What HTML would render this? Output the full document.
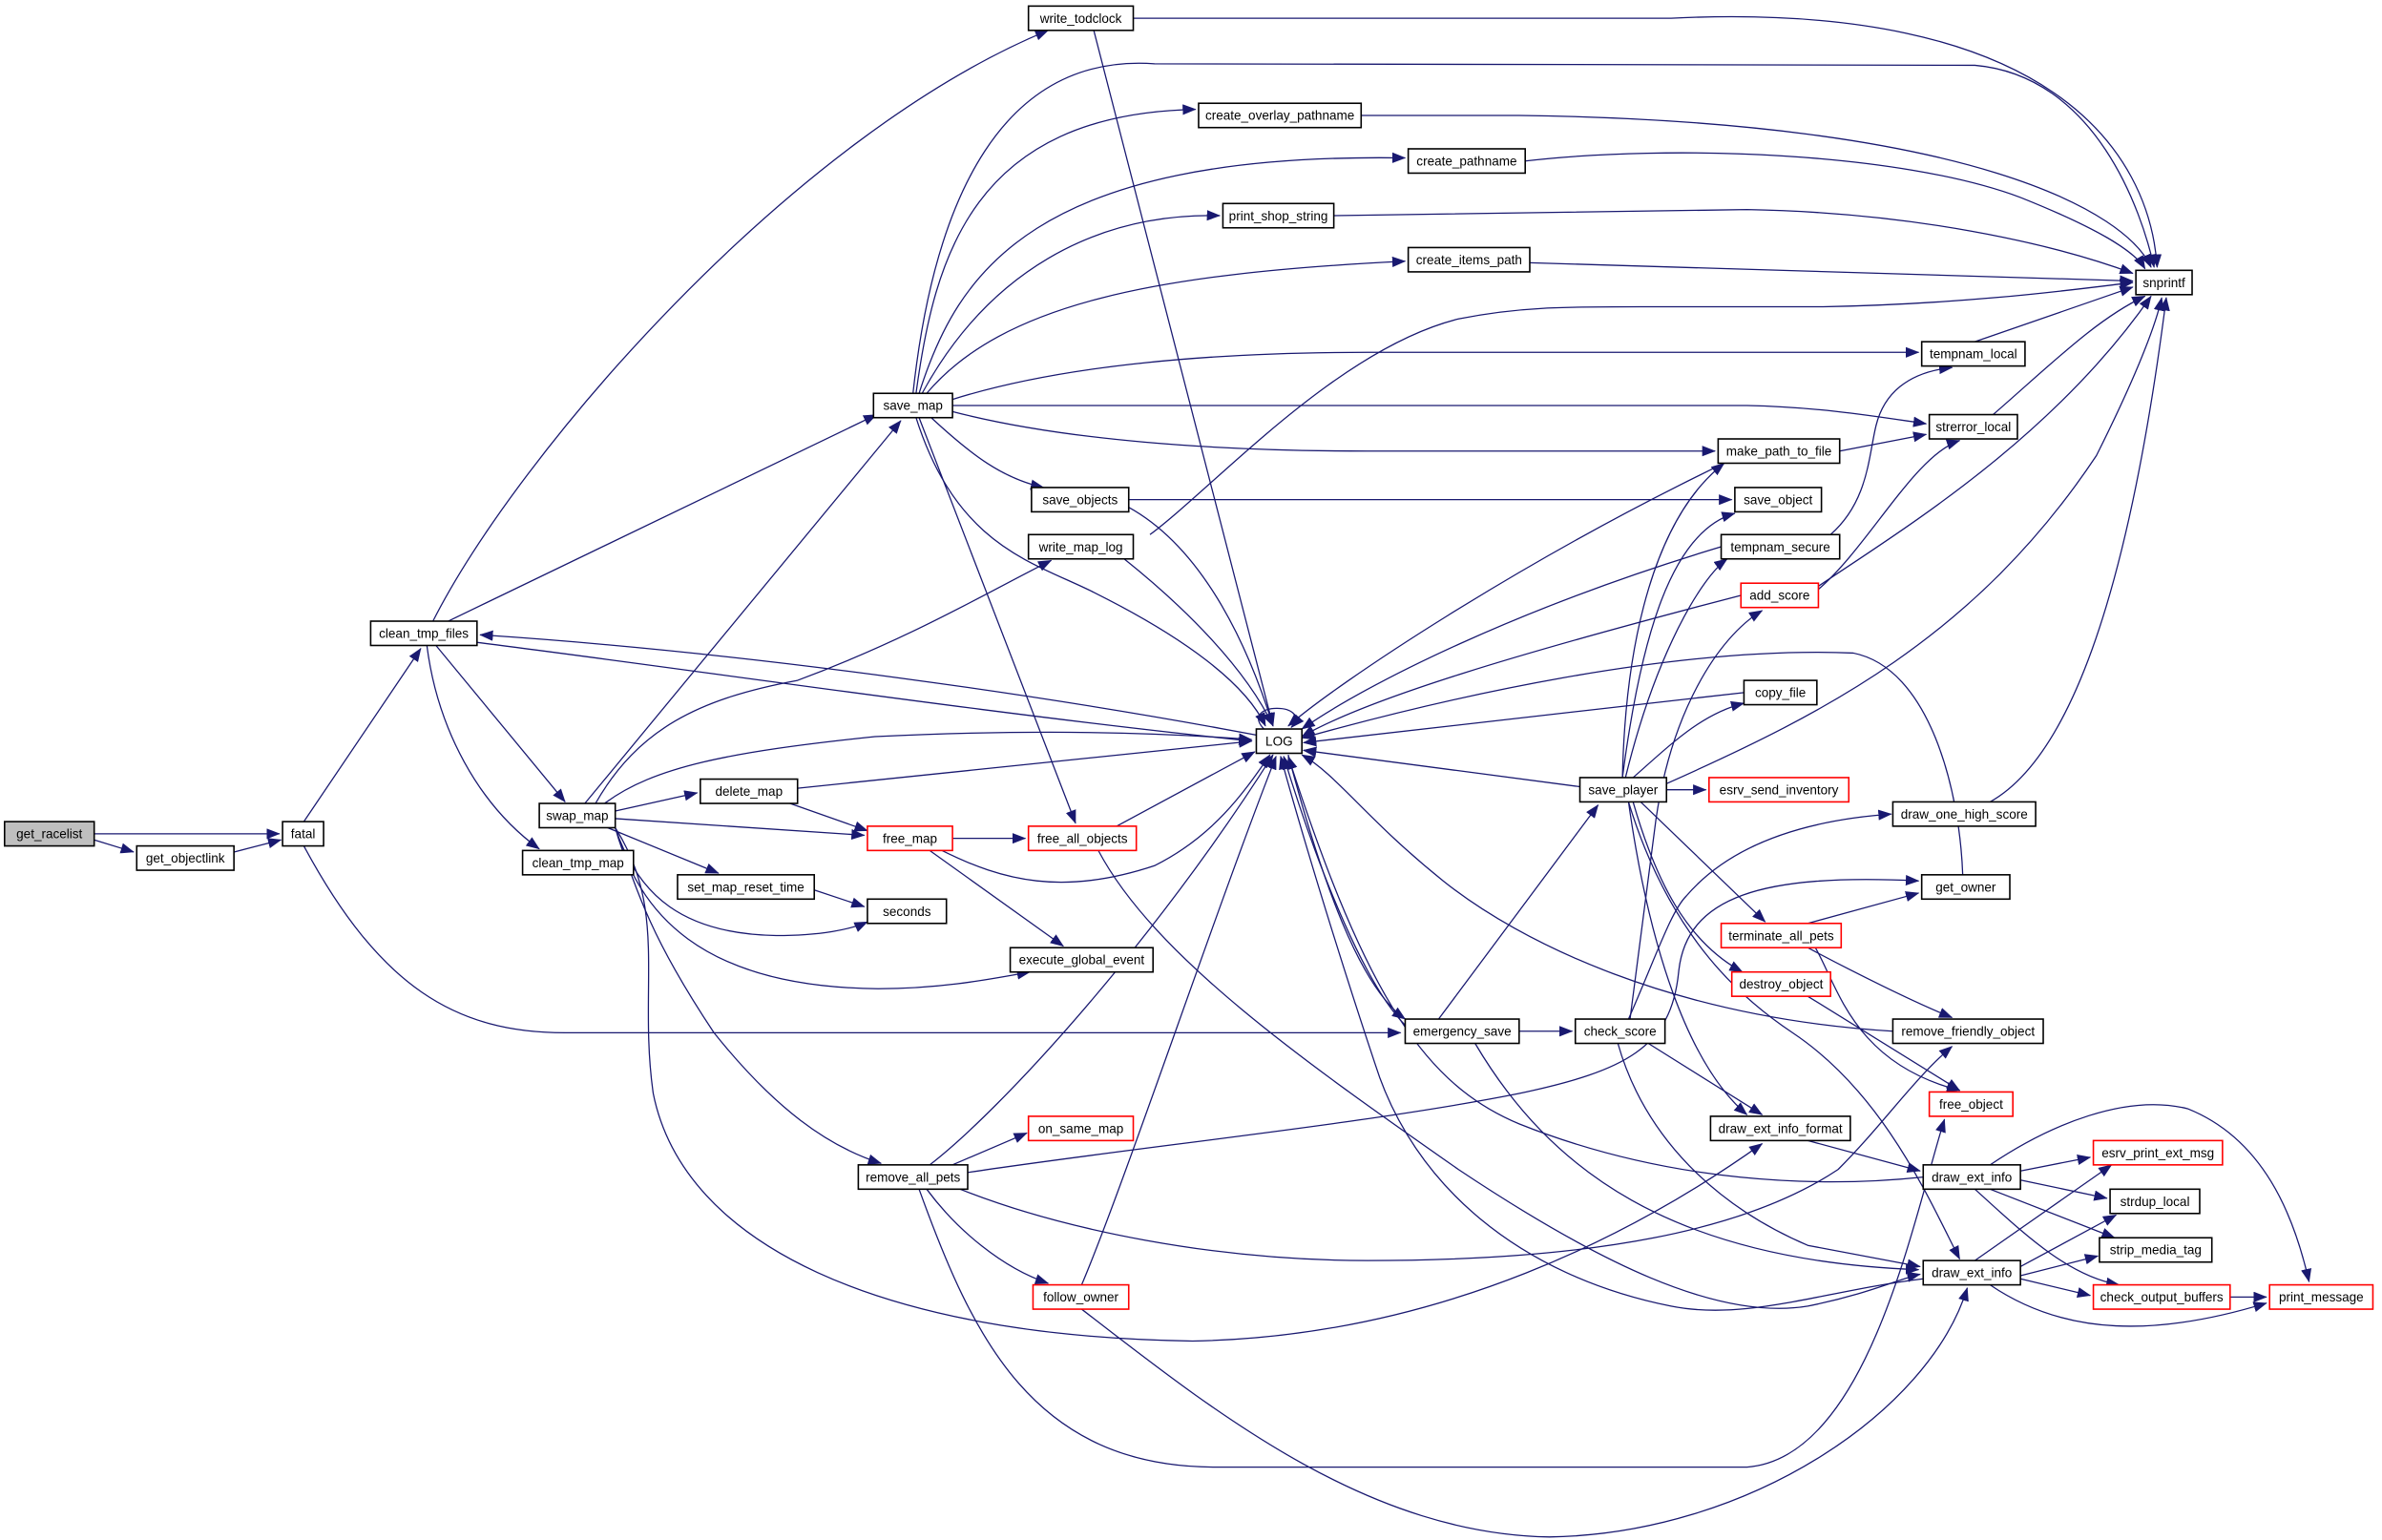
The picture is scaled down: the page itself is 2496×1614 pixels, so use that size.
<!DOCTYPE html>
<html><head><meta charset="utf-8"><style>html,body{margin:0;padding:0;background:#fff}svg{display:block}</style></head>
<body>
<svg width="2496" height="1614" viewBox="0 0 1568 1014" preserveAspectRatio="none" xmlns="http://www.w3.org/2000/svg">
<defs>
<marker id="a" markerUnits="userSpaceOnUse" markerWidth="9" markerHeight="7" refX="8.5" refY="3.5" orient="auto">
<path d="M0,0 L9,3.5 L0,7 z" fill="#191970"/>
</marker>
</defs>
<g fill="none" stroke="#191970" stroke-width="0.8" marker-end="url(#a)">
<path d="M62,549 L184,549"/>
<path d="M62,553 L88,561"/>
<path d="M154,561 L185,553"/>
<path d="M200,541 L277,427"/>
<path d="M200,557 C250,650 300,680 372,680 L922,680"/>
<path d="M285,409 C340,300 520,90 690,20"/>
<path d="M295,409 L577,273"/>
<path d="M287,425 L372,528"/>
<path d="M281,425 C288,480 315,530 355,559"/>
<path d="M827,484 C700,460 500,430 316,418"/>
<path d="M314,423 C450,440 650,470 824,488"/>
<path d="M746,12 L1100,12 C1350,0 1415,100 1420,176"/>
<path d="M720,20 L838,478"/>
<path d="M603,259 C615,170 640,75 787,72"/>
<path d="M601,259 C615,130 660,35 760,42 L1300,43 C1380,50 1410,140 1418,176"/>
<path d="M605,259 C630,180 680,100 925,104"/>
<path d="M607,259 C650,180 720,140 803,142"/>
<path d="M610,259 C660,200 760,180 925,172"/>
<path d="M627,263 C700,240 800,232 900,232 L1263,232"/>
<path d="M627,267 L1150,267 C1200,268 1240,275 1268,279"/>
<path d="M627,271 C700,290 800,297 900,297 L1129,297"/>
<path d="M613,275 C640,300 660,315 687,321"/>
<path d="M605,275 L708,542"/>
<path d="M603,275 C630,360 680,370 720,390 C780,420 820,450 833,478"/>
<path d="M743,329 L1140,329"/>
<path d="M743,334 C790,360 820,420 838,478"/>
<path d="M757,352 C800,320 880,230 960,210 C1000,202 1030,202 1080,202 L1200,202 C1300,200 1370,190 1404,186"/>
<path d="M740,368 C780,400 820,440 838,478"/>
<path d="M385,529 L593,277"/>
<path d="M392,529 C420,480 460,460 525,448 C600,420 650,390 692,369"/>
<path d="M398,529 C430,505 480,495 576,485 C680,480 760,482 824,487"/>
<path d="M405,534 L459,522"/>
<path d="M405,539 L569,550"/>
<path d="M400,545 L473,575"/>
<path d="M405,545 C420,590 450,615 511,616 C540,616 560,612 571,607"/>
<path d="M405,545 C420,600 460,650 578,651 C620,651 650,645 678,640"/>
<path d="M405,545 C420,590 430,620 470,680 C510,730 545,755 580,766"/>
<path d="M405,545 C440,600 420,650 430,720 C450,820 580,880 785,883 C950,880 1080,810 1160,753"/>
<path d="M525,519 L824,488"/>
<path d="M520,529 L571,547"/>
<path d="M627,552 L675,552"/>
<path d="M612,560 L700,623"/>
<path d="M620,560 C660,580 700,590 760,570 C800,550 820,520 836,497"/>
<path d="M735,544 L826,495"/>
<path d="M723,560 C760,630 860,700 960,770 C1050,830 1130,870 1190,860 C1230,852 1250,842 1264,839"/>
<path d="M536,586 L569,597"/>
<path d="M612,767 C660,730 760,620 838,497"/>
<path d="M627,767 L676,746"/>
<path d="M637,772 C750,755 900,740 1000,720 C1070,705 1100,690 1105,640 C1110,590 1160,575 1263,580"/>
<path d="M632,783 C700,810 800,830 900,830 C1050,830 1150,810 1210,770 C1240,740 1260,710 1285,689"/>
<path d="M605,783 C640,880 680,966 800,966 L1150,966 C1230,960 1260,800 1280,737"/>
<path d="M610,783 C630,810 660,835 690,845"/>
<path d="M712,862 C800,930 900,1010 1020,1012 C1150,1010 1270,930 1295,848"/>
<path d="M712,846 C740,780 800,600 840,498"/>
<path d="M896,76 L1000,76 C1300,80 1400,140 1416,176"/>
<path d="M1004,106 C1100,95 1250,100 1330,130 C1380,150 1405,165 1412,177"/>
<path d="M878,142 L1150,138 C1260,140 1350,160 1404,180"/>
<path d="M1007,173 L1404,185"/>
<path d="M1300,225 L1404,189"/>
<path d="M1312,273 C1350,240 1380,210 1412,195"/>
<path d="M1211,297 L1268,286"/>
<path d="M1197,386 C1250,350 1350,290 1416,195"/>
<path d="M1197,388 C1230,360 1260,300 1290,290"/>
<path d="M1097,516 C1200,470 1300,420 1380,300 C1410,240 1420,210 1423,196"/>
<path d="M1205,352 C1230,330 1230,300 1235,280 C1240,260 1255,245 1285,242"/>
<path d="M1133,360 C1000,400 900,450 857,480"/>
<path d="M1135,305 C1000,370 880,450 848,478"/>
<path d="M1146,392 C1000,430 900,460 857,485"/>
<path d="M1148,456 L858,489"/>
<path d="M1292,576 C1290,520 1270,440 1220,430 C1100,425 950,460 857,486"/>
<path d="M1040,518 L858,494"/>
<path d="M1097,520 L1123,520"/>
<path d="M1068,512 C1070,420 1090,340 1135,305"/>
<path d="M1068,512 C1080,420 1100,350 1142,338"/>
<path d="M1070,512 C1090,430 1120,380 1137,368"/>
<path d="M1075,512 C1100,490 1120,470 1148,463"/>
<path d="M1080,528 L1162,607"/>
<path d="M1075,528 C1090,580 1110,620 1147,640"/>
<path d="M1072,528 C1085,620 1110,700 1150,734"/>
<path d="M1072,528 C1100,620 1150,660 1180,680 C1240,720 1270,790 1290,829"/>
<path d="M947,671 L1052,530"/>
<path d="M1000,679 L1035,679"/>
<path d="M971,687 C1020,770 1100,830 1263,836"/>
<path d="M848,497 C870,580 895,650 925,671"/>
<path d="M925,675 C900,650 870,580 845,498"/>
<path d="M1073,671 L1090,540 C1100,470 1130,420 1160,402"/>
<path d="M1072,671 C1090,630 1100,600 1110,590 C1140,555 1190,540 1245,536"/>
<path d="M1085,687 L1160,734"/>
<path d="M1065,687 C1080,740 1120,790 1190,820 L1264,834"/>
<path d="M1310,528 C1360,500 1400,400 1426,196"/>
<path d="M1190,608 L1263,588"/>
<path d="M1190,624 C1220,640 1260,660 1285,670"/>
<path d="M1195,624 C1210,650 1220,700 1290,718"/>
<path d="M1190,656 L1290,718"/>
<path d="M1246,679 C1100,670 1000,620 950,580 C900,540 880,510 857,497"/>
<path d="M1190,751 L1264,771"/>
<path d="M1266,775 C1200,782 1100,780 1000,740 C940,715 900,660 848,498"/>
<path d="M1266,842 C1200,850 1150,870 1100,860 C1000,840 930,780 905,700 C885,640 860,560 843,498"/>
<path d="M1330,771 L1376,762"/>
<path d="M1330,777 L1387,789"/>
<path d="M1310,783 L1392,815"/>
<path d="M1300,783 C1330,810 1360,840 1395,846"/>
<path d="M1310,767 C1350,740 1400,720 1440,730 C1490,750 1510,800 1520,844"/>
<path d="M1300,830 L1390,767"/>
<path d="M1330,834 L1393,800"/>
<path d="M1330,840 L1381,827"/>
<path d="M1330,842 L1376,853"/>
<path d="M1310,846 C1360,880 1420,880 1492,858"/>
<path d="M1468,854 L1492,854"/>
<path d="M832,480 C815,462 865,462 850,479"/>
</g>
<g font-family="Liberation Sans, sans-serif" font-size="8.5" text-anchor="middle" fill="#000" stroke-width="1">
<rect x="3" y="541" width="59" height="16" fill="#bfbfbf" stroke="#000"/><text x="32.5" y="552">get_racelist</text>
<rect x="90" y="557" width="64" height="16" fill="#fff" stroke="#000"/><text x="122" y="568">get_objectlink</text>
<rect x="186" y="541" width="27" height="16" fill="#fff" stroke="#000"/><text x="199.5" y="552">fatal</text>
<rect x="244" y="409" width="70" height="16" fill="#fff" stroke="#000"/><text x="279" y="420">clean_tmp_files</text>
<rect x="677" y="4" width="69" height="16" fill="#fff" stroke="#000"/><text x="711.5" y="15">write_todclock</text>
<rect x="575" y="259" width="52" height="16" fill="#fff" stroke="#000"/><text x="601" y="270">save_map</text>
<rect x="679" y="321" width="64" height="16" fill="#fff" stroke="#000"/><text x="711" y="332">save_objects</text>
<rect x="677" y="352" width="69" height="16" fill="#fff" stroke="#000"/><text x="711.5" y="363">write_map_log</text>
<rect x="355" y="529" width="50" height="16" fill="#fff" stroke="#000"/><text x="380" y="540">swap_map</text>
<rect x="344" y="560" width="73" height="16" fill="#fff" stroke="#000"/><text x="380.5" y="571">clean_tmp_map</text>
<rect x="461" y="513" width="64" height="16" fill="#fff" stroke="#000"/><text x="493" y="524">delete_map</text>
<rect x="571" y="544" width="56" height="16" fill="#fff" stroke="#f00"/><text x="599" y="555">free_map</text>
<rect x="677" y="544" width="71" height="16" fill="#fff" stroke="#f00"/><text x="712.5" y="555">free_all_objects</text>
<rect x="446" y="576" width="90" height="16" fill="#fff" stroke="#000"/><text x="491" y="587">set_map_reset_time</text>
<rect x="571" y="592" width="52" height="16" fill="#fff" stroke="#000"/><text x="597" y="603">seconds</text>
<rect x="665" y="624" width="94" height="16" fill="#fff" stroke="#000"/><text x="712" y="635">execute_global_event</text>
<rect x="827" y="480" width="30" height="16" fill="#fff" stroke="#000"/><text x="842" y="491">LOG</text>
<rect x="789" y="68" width="107" height="16" fill="#fff" stroke="#000"/><text x="842.5" y="79">create_overlay_pathname</text>
<rect x="927" y="98" width="77" height="16" fill="#fff" stroke="#000"/><text x="965.5" y="109">create_pathname</text>
<rect x="805" y="134" width="73" height="16" fill="#fff" stroke="#000"/><text x="841.5" y="145">print_shop_string</text>
<rect x="927" y="163" width="80" height="16" fill="#fff" stroke="#000"/><text x="967" y="174">create_items_path</text>
<rect x="1406" y="178" width="37" height="16" fill="#fff" stroke="#000"/><text x="1424.5" y="189">snprintf</text>
<rect x="1265" y="225" width="68" height="16" fill="#fff" stroke="#000"/><text x="1299" y="236">tempnam_local</text>
<rect x="1270" y="273" width="58" height="16" fill="#fff" stroke="#000"/><text x="1299" y="284">strerror_local</text>
<rect x="1131" y="289" width="80" height="16" fill="#fff" stroke="#000"/><text x="1171" y="300">make_path_to_file</text>
<rect x="1142" y="321" width="57" height="16" fill="#fff" stroke="#000"/><text x="1170.5" y="332">save_object</text>
<rect x="1133" y="352" width="78" height="16" fill="#fff" stroke="#000"/><text x="1172" y="363">tempnam_secure</text>
<rect x="1146" y="384" width="51" height="16" fill="#fff" stroke="#f00"/><text x="1171.5" y="395">add_score</text>
<rect x="1148" y="448" width="48" height="16" fill="#fff" stroke="#000"/><text x="1172" y="459">copy_file</text>
<rect x="1040" y="512" width="57" height="16" fill="#fff" stroke="#000"/><text x="1068.5" y="523">save_player</text>
<rect x="1125" y="512" width="92" height="16" fill="#fff" stroke="#f00"/><text x="1171" y="523">esrv_send_inventory</text>
<rect x="1246" y="528" width="94" height="16" fill="#fff" stroke="#000"/><text x="1293" y="539">draw_one_high_score</text>
<rect x="1265" y="576" width="58" height="16" fill="#fff" stroke="#000"/><text x="1294" y="587">get_owner</text>
<rect x="1133" y="608" width="79" height="16" fill="#fff" stroke="#f00"/><text x="1172.5" y="619">terminate_all_pets</text>
<rect x="1140" y="640" width="65" height="16" fill="#fff" stroke="#f00"/><text x="1172.5" y="651">destroy_object</text>
<rect x="925" y="671" width="75" height="16" fill="#fff" stroke="#000"/><text x="962.5" y="682">emergency_save</text>
<rect x="1037" y="671" width="59" height="16" fill="#fff" stroke="#000"/><text x="1066.5" y="682">check_score</text>
<rect x="1246" y="671" width="99" height="16" fill="#fff" stroke="#000"/><text x="1295.5" y="682">remove_friendly_object</text>
<rect x="1270" y="719" width="55" height="16" fill="#fff" stroke="#f00"/><text x="1297.5" y="730">free_object</text>
<rect x="1126" y="735" width="92" height="16" fill="#fff" stroke="#000"/><text x="1172" y="746">draw_ext_info_format</text>
<rect x="1266" y="767" width="64" height="16" fill="#fff" stroke="#000"/><text x="1298" y="778">draw_ext_info</text>
<rect x="1378" y="751" width="85" height="16" fill="#fff" stroke="#f00"/><text x="1420.5" y="762">esrv_print_ext_msg</text>
<rect x="1389" y="783" width="59" height="16" fill="#fff" stroke="#000"/><text x="1418.5" y="794">strdup_local</text>
<rect x="1382" y="815" width="74" height="16" fill="#fff" stroke="#000"/><text x="1419" y="826">strip_media_tag</text>
<rect x="1266" y="830" width="64" height="16" fill="#fff" stroke="#000"/><text x="1298" y="841">draw_ext_info</text>
<rect x="1378" y="846" width="90" height="16" fill="#fff" stroke="#f00"/><text x="1423" y="857">check_output_buffers</text>
<rect x="1494" y="846" width="68" height="16" fill="#fff" stroke="#f00"/><text x="1528" y="857">print_message</text>
<rect x="677" y="735" width="69" height="16" fill="#fff" stroke="#f00"/><text x="711.5" y="746">on_same_map</text>
<rect x="565" y="767" width="72" height="16" fill="#fff" stroke="#000"/><text x="601" y="778">remove_all_pets</text>
<rect x="680" y="846" width="63" height="16" fill="#fff" stroke="#f00"/><text x="711.5" y="857">follow_owner</text>
</g>
</svg>
</body></html>
